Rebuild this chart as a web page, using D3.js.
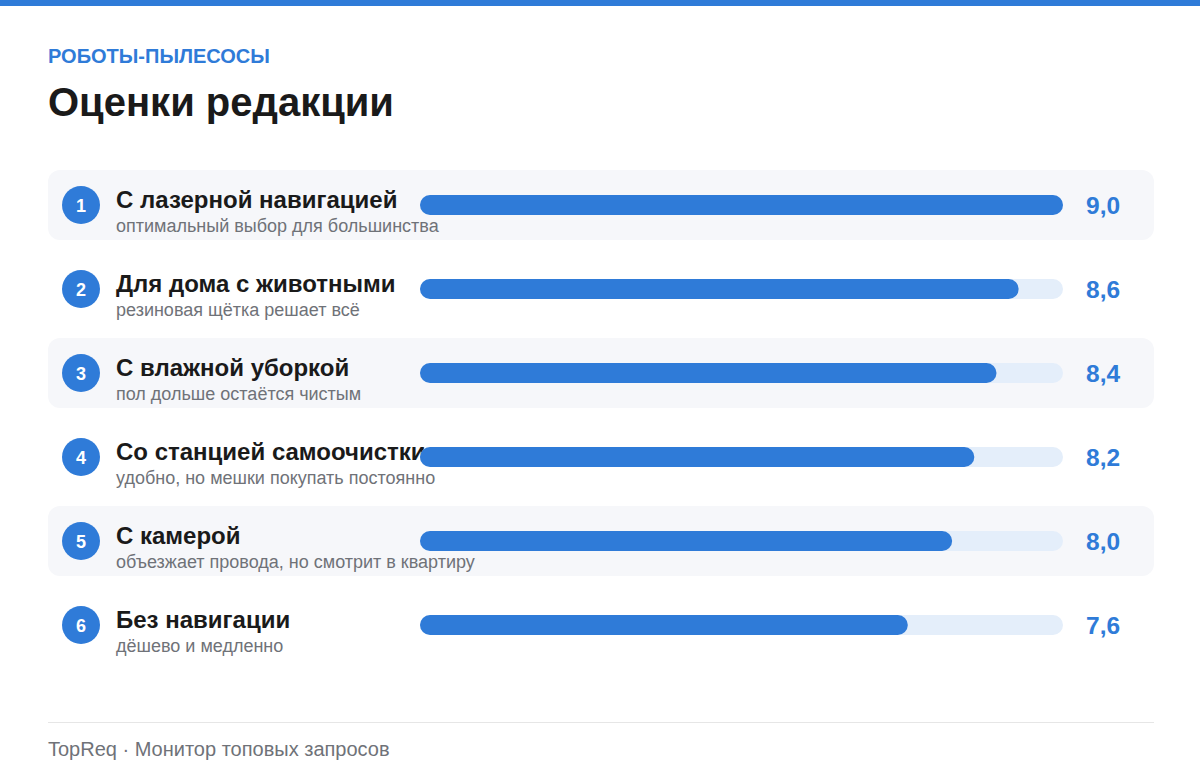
<!DOCTYPE html>
<html><head><meta charset="utf-8">
<script src="https://cdn.jsdelivr.net/npm/d3@7"></script>
<style>
html,body{margin:0;padding:0;background:#fff;}
svg{display:block;font-family:"Liberation Sans",Arial,sans-serif;}
</style></head>
<body><svg id="c" width="1200" height="784"></svg>
<script>
const eyebrow = "РОБОТЫ-ПЫЛЕСОСЫ";
const title = "Оценки редакции";
const categories = ["С лазерной навигацией","Для дома с животными","С влажной уборкой","Со станцией самоочистки","С камерой","Без навигации"];
const notes = ["оптимальный выбор для большинства","резиновая щётка решает всё","пол дольше остаётся чистым","удобно, но мешки покупать постоянно","объезжает провода, но смотрит в квартиру","дёшево и медленно"];
const scores = [9.0, 8.6, 8.4, 8.2, 8.0, 7.6];
const footer = "TopReq · Монитор топовых запросов";

const svg = d3.select("#c");
const W = 1200;
const blue = "#2f7bd8";

svg.append("rect").attr("x",0).attr("y",0).attr("width",W).attr("height",6).attr("fill",blue);
svg.append("text").attr("x",48).attr("y",63).attr("fill",blue).attr("font-size",20).attr("font-weight",700).text(eyebrow);
svg.append("text").attr("x",48).attr("y",116).attr("fill","#1a1a1a").attr("font-size",40).attr("font-weight",700).text(title);

const y = d3.scaleBand().domain(d3.range(categories.length)).range([163, 667]).paddingInner(0);
const x = d3.scaleLinear().domain([3.2, 9.0]).range([420, 1063]);

const rows = svg.append("g").selectAll("g").data(scores).join("g")
  .attr("transform",(d,i)=>`translate(0,${y(i)+y.bandwidth()/2})`);

rows.filter((d,i)=>i%2===0).append("rect")
  .attr("x",48).attr("y",-35).attr("width",1106).attr("height",70).attr("rx",12).attr("fill","#f6f7fa");

rows.append("circle").attr("cx",81).attr("cy",0).attr("r",19).attr("fill",blue);
rows.append("text").attr("x",81).attr("y",6.5).attr("text-anchor","middle").attr("fill","#fff")
  .attr("font-size",18).attr("font-weight",700).text((d,i)=>i+1);

rows.append("text").attr("x",116).attr("y",3).attr("fill","#1a1a1a").attr("font-size",24).attr("font-weight",700)
  .text((d,i)=>categories[i]);
rows.append("text").attr("x",116).attr("y",27).attr("fill","#6f7278").attr("font-size",18)
  .text((d,i)=>notes[i]);

rows.append("rect").attr("x",x.range()[0]).attr("y",-10).attr("width",x.range()[1]-x.range()[0]).attr("height",20)
  .attr("rx",10).attr("fill","#e4eefa");
rows.append("rect").attr("x",x.range()[0]).attr("y",-10).attr("width",d=>x(d)-x.range()[0]).attr("height",20)
  .attr("rx",10).attr("fill",blue);

rows.append("text").attr("x",1086).attr("y",9).attr("fill",blue).attr("font-size",24.5).attr("font-weight",700)
  .text(d=>d.toFixed(1).replace(".",","));

svg.append("line").attr("x1",48).attr("x2",1154).attr("y1",722.5).attr("y2",722.5).attr("stroke","#e6e6e6").attr("stroke-width",1);
svg.append("text").attr("x",48).attr("y",756).attr("fill","#6f7278").attr("font-size",20).text(footer);
</script></body></html>
